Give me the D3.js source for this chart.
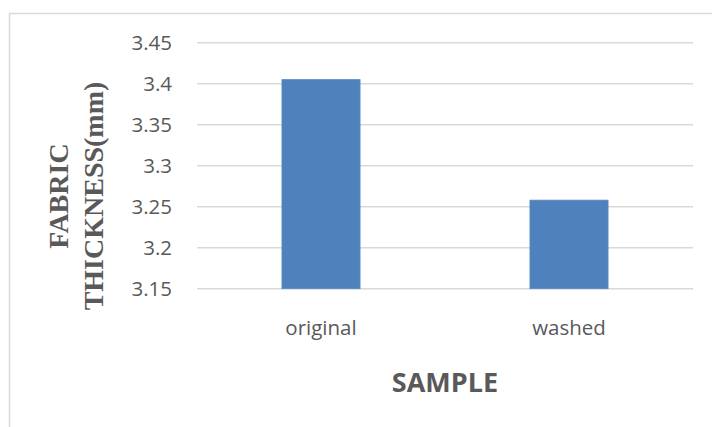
<!DOCTYPE html>
<html>
<head>
<meta charset="utf-8">
<script src="https://cdn.jsdelivr.net/npm/d3@7"></script>
<style>
    body { margin: 0; background: #fff; }
    svg { display: block; }
</style>
</head>
<body>
<div id="chart"></div>
<script>
// data
const samples = ["original", "washed"];
const thickness = [3.405, 3.258];
const yTicks = [3.15, 3.2, 3.25, 3.3, 3.35, 3.4, 3.45];
const yTitle = ["FABRIC", "THICKNESS(mm)"];
const xTitle = "SAMPLE";

const width = 712,
    height = 427;

const margin = { top: 42.7, right: 19, bottom: 138.3, left: 197 };

const svg = d3.select("#chart").append("svg")
    .attr("width", width)
    .attr("height", height);

// chart frame (runs off the right and bottom edge)
svg.append("rect")
    .attr("x", 9.5)
    .attr("y", 13.5)
    .attr("width", width + 20)
    .attr("height", height + 20)
    .attr("fill", "none")
    .attr("stroke", "#d9d9d9")
    .attr("stroke-width", 1.5);

let x = d3.scaleBand()
    .domain(samples)
    .range([margin.left, width - margin.right])
    .paddingInner(0.685)
    .paddingOuter(0.3425);

let y = d3.scaleLinear()
    .domain([3.15, 3.45])
    .range([height - margin.bottom, margin.top]);

// gridlines
svg.append("g")
    .selectAll("line")
    .data(yTicks)
    .enter()
    .append("line")
    .attr("x1", margin.left)
    .attr("x2", width - margin.right)
    .attr("y1", function(d) { return y(d); })
    .attr("y2", function(d) { return y(d); })
    .attr("stroke", "#d9d9d9")
    .attr("stroke-width", 1.5);

// y axis labels
let yAxis = svg.append("g")
    .attr("transform", "translate(" + (margin.left - 25) + ",0)")
    .call(d3.axisLeft(y).tickValues(yTicks).tickSize(0).tickPadding(0)
        .tickFormat(function(d) { return String(+d.toFixed(2)); }));
yAxis.select(".domain").remove();
yAxis.selectAll("text")
    .attr("fill", "#595959")
    .style("font-family", "'Open Sans', sans-serif")
    .style("font-size", "20.5px");

// bars
svg.append("g")
    .selectAll("rect")
    .data(samples)
    .enter()
    .append("rect")
    .attr("x", function(d) { return x(d); })
    .attr("width", x.bandwidth())
    .attr("y", function(d, i) { return y(thickness[i]); })
    .attr("height", function(d, i) { return y(3.15) - y(thickness[i]); })
    .attr("fill", "#4f81bd")
    .attr("stroke", "#5a8ac4")
    .attr("stroke-width", 0.8);

// category labels
let xAxis = svg.append("g")
    .attr("transform", "translate(0," + (height - margin.bottom) + ")")
    .call(d3.axisBottom(x).tickSize(0).tickPadding(32));
xAxis.select(".domain").remove();
xAxis.selectAll("text")
    .attr("fill", "#595959")
    .style("font-family", "'Open Sans', sans-serif")
    .style("font-size", "20.5px");

// axis titles
svg.append("text")
    .attr("x", (margin.left + width - margin.right) / 2)
    .attr("y", 392)
    .attr("text-anchor", "middle")
    .attr("fill", "#595959")
    .style("font-family", "'Open Sans', sans-serif")
    .style("font-weight", "bold")
    .style("font-size", "27px")
    .text(xTitle);

let title = svg.append("text")
    .attr("transform", "translate(68,196) rotate(-90)")
    .attr("text-anchor", "middle")
    .attr("fill", "#595959")
    .style("font-family", "'Liberation Serif', 'Times New Roman', serif")
    .style("font-weight", "bold")
    .style("font-size", "28px");

title.selectAll("tspan")
    .data(yTitle)
    .enter()
    .append("tspan")
    .attr("x", 0)
    .attr("dy", function(d, i) { return i === 0 ? 0 : 35; })
    .text(function(d) { return d; });
</script>
</body>
</html>
